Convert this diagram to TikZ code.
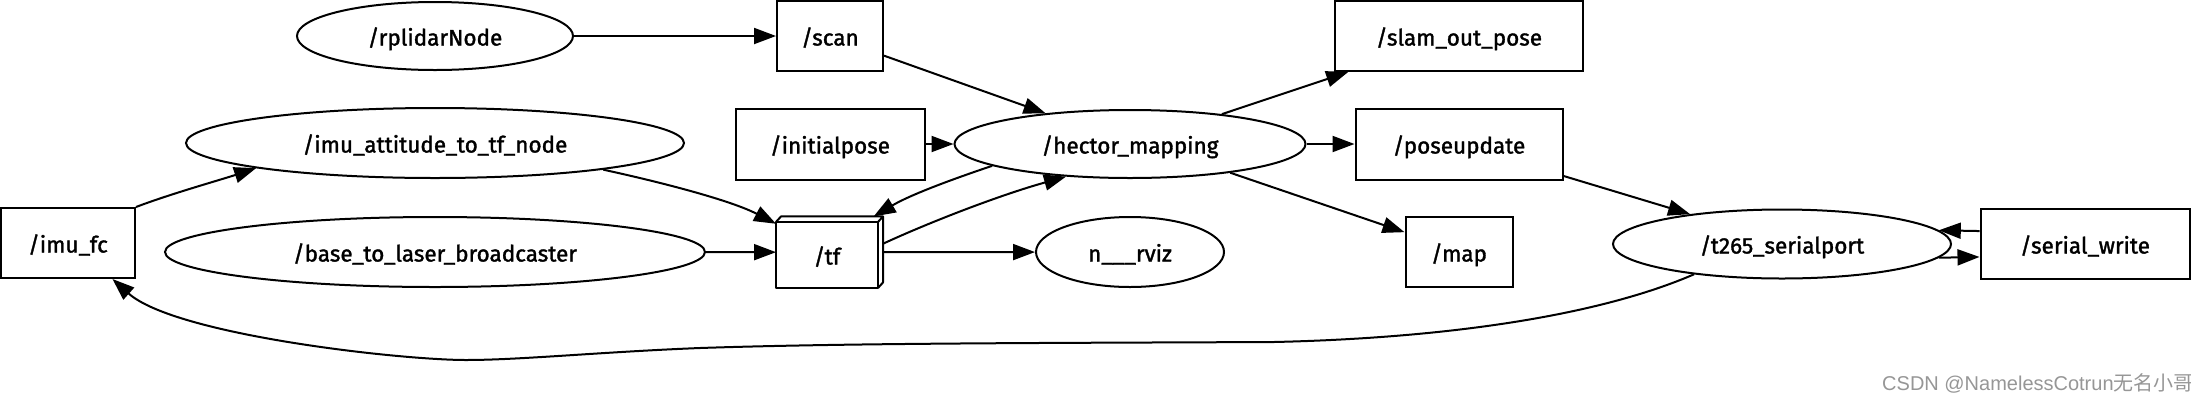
\documentclass[tikz,border=0pt]{standalone}
\usepackage{fontspec}
\setmainfont{Fira Sans}[FakeBold=1.5]
\newfontfamily\wmfont{Liberation Sans}
\newfontfamily\cjkfont{Noto Sans CJK SC}
\usetikzlibrary{shapes.geometric,arrows.meta}
\definecolor{wmgray}{RGB}{150,150,150}
\begin{document}
\begin{tikzpicture}[x=1pt,y=-1pt,
  lbl/.style={font=\fontsize{22.5}{27}\selectfont, text height=22pt, text depth=3pt, inner sep=0pt, line width=2pt},
  ell/.style={lbl, ellipse, draw},
  bx/.style={lbl, rectangle, draw},
  arr/.style={line width=2pt, -{Triangle[length=22pt,width=16pt]}},
  face/.style={line width=2pt, line join=round}
]
\useasboundingbox (0,0) rectangle (2191,400);
\node[ell, minimum width=276pt, minimum height=68pt] (rpl) at (435,36) {/rplidarNode};
\node[bx, minimum width=106pt, minimum height=70pt] (scan) at (830,36) {/scan};
\node[bx, minimum width=248pt, minimum height=70pt] (slam) at (1459,36) {/slam\_out\_pose};
\node[ell, minimum width=498pt, minimum height=70pt] (imuatt) at (435,143) {/imu\_attitude\_to\_tf\_node};
\node[bx, minimum width=189pt, minimum height=71pt] (initp) at (830,144) {/initialpose};
\node[ell, minimum width=351pt, minimum height=68pt] (hector) at (1130,144) {/hector\_mapping};
\node[bx, minimum width=207pt, minimum height=71pt] (poseup) at (1459,144) {/poseupdate};
\node[bx, minimum width=134pt, minimum height=70pt] (imufc) at (68,243) {/imu\_fc};
\node[ell, minimum width=540pt, minimum height=70pt] (base) at (435,252) {/base\_to\_laser\_broadcaster};
\node[lbl, minimum width=105pt, minimum height=69.5pt] (tf) at (829.5,252.2) {};
\node[lbl] (tflabel) at (827,255) {/tf};
\draw[face] ([yshift=-5.5pt]tf.north west) rectangle ([xshift=-5pt]tf.south east);
\draw[face] ([yshift=-5.5pt]tf.north west) -- ([xshift=5pt]tf.north west) -- (tf.north east) -- ([xshift=-5pt,yshift=-5.5pt]tf.north east);
\draw[face] (tf.north east) -- ([yshift=5.5pt]tf.south east) -- ([xshift=-5pt]tf.south east);
\node[ell, minimum width=188pt, minimum height=70pt] (rviz) at (1130,252) {n\_\_\_rviz};
\node[bx, minimum width=107pt, minimum height=70pt] (map) at (1459,252) {/map};
\node[ell, minimum width=338pt, minimum height=69pt] (t265) at (1782,244) {/t265\_serialport};
\node[bx, minimum width=209pt, minimum height=70pt] (serial) at (2085,244) {/serial\_write};
\node[anchor=west, text=wmgray, inner sep=0pt, font=\wmfont\fontsize{20}{24}\selectfont] (wm) at (1882,383) {CSDN @NamelessCotrun{\cjkfont 无名小哥}};

\draw[arr] (rpl) -- (scan);
\draw[arr] (scan.-20) -- (hector.160);
\draw[arr] (initp) -- (hector);
\draw[arr] (hector.18) -- (slam.198);
\draw[arr] (hector) -- (poseup);
\draw[arr] (hector.-16) -- (map.160);
\draw[arr] (hector.189) .. controls (950,180) and (910,195) .. (tf.39);
\draw[arr] (tf.9) .. controls (930,222) and (1000,195) .. (hector.207);
\draw[arr] (imuatt.-9) .. controls (660,182) and (730,200) .. (tf.152);
\draw[arr] (base) -- (tf);
\draw[arr] (tf) -- (rviz);
\draw[arr] (imufc.north east) .. controls (170,194) and (220,180) .. (imuatt.188);
\draw[arr] (poseup.-17) -- (t265.162);
\draw[arr] (serial.173) -- (t265.5);
\draw[arr] (t265.-5) -- (serial.187);
\draw[arr] (t265.199) .. controls (1600,315) and (1450,338) .. (1274,342) .. controls (1050,343) and (850,343) .. (700,348) .. controls (600,352) and (520,360) .. (466,360) .. controls (400,360) and (175,335) .. (imufc.-39);
\end{tikzpicture}
\end{document}
